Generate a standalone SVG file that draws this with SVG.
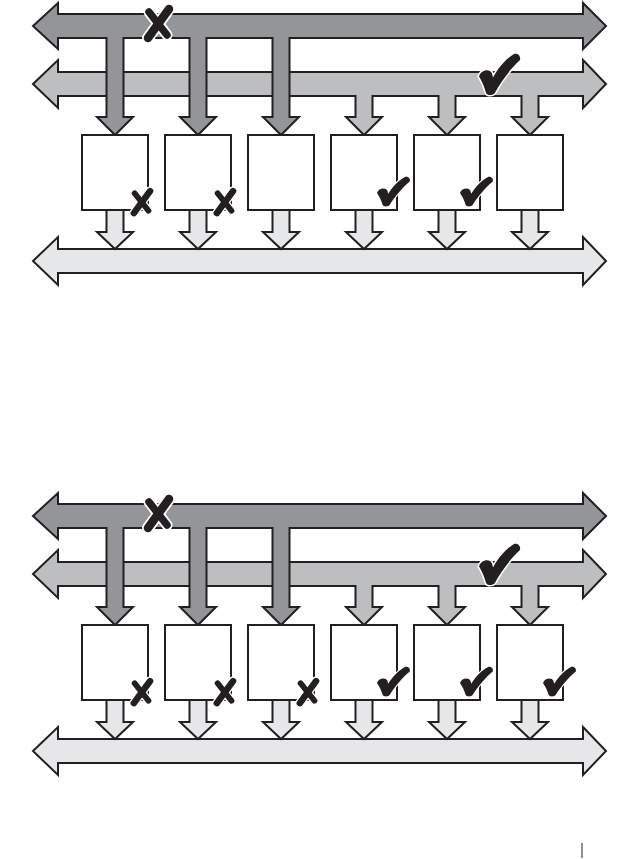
<svg xmlns="http://www.w3.org/2000/svg" xmlns:xlink="http://www.w3.org/1999/xlink" width="641" height="859" viewBox="0 0 641 859">
<style>
.ol{stroke:#231f20;stroke-width:2;stroke-linejoin:miter}
.dark{fill:#939598}
.light{fill:#bcbec0}
.pale{fill:#e6e7e8}
.box{fill:#ffffff;stroke:#231f20;stroke-width:2}
.mk{fill:#231f20;stroke:#ffffff;stroke-width:3;paint-order:stroke;stroke-linejoin:round}
</style>
<defs>
<g id="xmark">
<line x1="26" y1="4" x2="5" y2="33" stroke="#ffffff" stroke-width="12" stroke-linecap="round"/>
<line x1="6" y1="7" x2="24" y2="30" stroke="#ffffff" stroke-width="11" stroke-linecap="round"/>
<line x1="26" y1="4" x2="5" y2="33" stroke="#231f20" stroke-width="8.5" stroke-linecap="round"/>
<line x1="6" y1="7" x2="24" y2="30" stroke="#231f20" stroke-width="7.5" stroke-linecap="round"/>
</g>
<path id="check" class="mk" d="M0,22 C2,15 11,14 13,19 L14,23 C20,12 28,4 35,0 C38,-1 42,1 41,6 C31,15 22,27 16,38 C14,41 8,41 7,38 C5,31 3,27 0,22 Z"/>
<g id="outarrows" class="ol pale">
<path d="M106.5,210 V232 H97 L115,249 L133,232 H123.5 V210 Z"/>
<path d="M189.5,210 V232 H180 L198,249 L216,232 H206.5 V210 Z"/>
<path d="M272.5,210 V232 H263 L281,249 L299,232 H289.5 V210 Z"/>
<path d="M355.5,210 V232 H346 L364,249 L382,232 H372.5 V210 Z"/>
<path d="M438.5,210 V232 H429 L447,249 L465,232 H455.5 V210 Z"/>
<path d="M521.5,210 V232 H512 L530,249 L548,232 H538.5 V210 Z"/>
</g>
<g id="buses">
<path class="ol light" d="M33,84 L58,60 L58,72 L583,72 L583,60 L606,84 L583,108 L583,96 L538.5,96 L538.5,117 L548,117 L530,135 L512,117 L521.5,117 L521.5,96 L455.5,96 L455.5,117 L465,117 L447,135 L429,117 L438.5,117 L438.5,96 L372.5,96 L372.5,117 L382,117 L364,135 L346,117 L355.5,117 L355.5,96 L58,96 L58,108 Z"/>
<path class="ol dark" d="M33,26 L58,3 L58,14 L583,14 L583,3 L606,26 L583,49 L583,38 L289.5,38 L289.5,117 L299,117 L281,135 L263,117 L272.5,117 L272.5,38 L206.5,38 L206.5,117 L216,117 L198,135 L180,117 L189.5,117 L189.5,38 L123.5,38 L123.5,117 L133,117 L115,135 L97,117 L106.5,117 L106.5,38 L58,38 L58,49 Z"/>
<path class="ol pale" d="M33,261 L58,237 L58,249 L583,249 L583,237 L606,261 L583,285 L583,273 L58,273 L58,285 Z"/>
</g>
</defs>

<!-- Top diagram -->
<g id="top-diagram">
<g id="top-connectors">
<use xlink:href="#buses"/>
<use xlink:href="#outarrows"/>
</g>
<g id="top-box1"><rect class="box" x="82" y="135" width="66" height="75"/><use xlink:href="#xmark" transform="translate(130,188) scale(0.77,0.76)"/></g>
<g id="top-box2"><rect class="box" x="165" y="135" width="66" height="75"/><use xlink:href="#xmark" transform="translate(213,188) scale(0.77,0.76)"/></g>
<g id="top-box3"><rect class="box" x="248" y="135" width="66" height="75"/></g>
<g id="top-box4"><rect class="box" x="331" y="135" width="66" height="75"/><use xlink:href="#check" transform="translate(377,177) scale(0.8,0.73)"/></g>
<g id="top-box5"><rect class="box" x="414" y="135" width="66" height="75"/><use xlink:href="#check" transform="translate(460,177) scale(0.8,0.73)"/></g>
<g id="top-box6"><rect class="box" x="497" y="135" width="66" height="75"/></g>
<g id="top-marks">
<use xlink:href="#xmark" transform="translate(143,5)"/>
<use xlink:href="#check" transform="translate(479,54) scale(1.0,1.02)"/>
</g>
</g>

<!-- Bottom diagram -->
<g id="bottom-diagram" transform="translate(0,490)">
<g id="bottom-connectors">
<use xlink:href="#buses"/>
<use xlink:href="#outarrows"/>
</g>
<g id="bot-box1"><rect class="box" x="82" y="135" width="66" height="75"/><use xlink:href="#xmark" transform="translate(130,188) scale(0.77,0.76)"/></g>
<g id="bot-box2"><rect class="box" x="165" y="135" width="66" height="75"/><use xlink:href="#xmark" transform="translate(213,188) scale(0.77,0.76)"/></g>
<g id="bot-box3"><rect class="box" x="248" y="135" width="66" height="75"/><use xlink:href="#xmark" transform="translate(296,188) scale(0.77,0.76)"/></g>
<g id="bot-box4"><rect class="box" x="331" y="135" width="66" height="75"/><use xlink:href="#check" transform="translate(377,177) scale(0.8,0.73)"/></g>
<g id="bot-box5"><rect class="box" x="414" y="135" width="66" height="75"/><use xlink:href="#check" transform="translate(460,177) scale(0.8,0.73)"/></g>
<g id="bot-box6"><rect class="box" x="497" y="135" width="66" height="75"/><use xlink:href="#check" transform="translate(543,177) scale(0.8,0.73)"/></g>
<g id="bottom-marks">
<use xlink:href="#xmark" transform="translate(143,5)"/>
<use xlink:href="#check" transform="translate(479,54) scale(1.0,1.02)"/>
</g>
</g>

<line x1="582" y1="843" x2="582" y2="858" stroke="#231f20" stroke-width="1"/>
</svg>
